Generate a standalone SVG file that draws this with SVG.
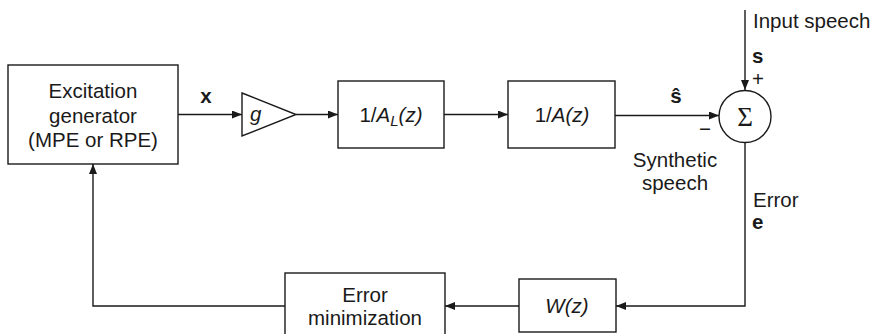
<svg xmlns="http://www.w3.org/2000/svg" width="874" height="334" viewBox="0 0 874 334">
<defs>
<marker id="ah" markerWidth="10" markerHeight="8" refX="10" refY="4" orient="auto" markerUnits="userSpaceOnUse">
<path d="M0,0 L10,4 L0,8 Z" fill="#1a1a1a"/>
</marker>
<style>
.box{fill:#fff;stroke:#1a1a1a;stroke-width:1.4}
.ln{fill:none;stroke:#1a1a1a;stroke-width:1.4}
.t{font-family:"Liberation Sans",Arial,sans-serif;font-size:20.5px;fill:#1a1a1a}
.c{text-anchor:middle}
.b{font-weight:bold}
.i{font-style:italic}
</style>
</defs>
<rect width="874" height="334" fill="#fff"/>
<g id="connectors">
<line class="ln" x1="178" y1="114.5" x2="242" y2="114.5" marker-end="url(#ah)"/>
<line class="ln" x1="296" y1="114.5" x2="338" y2="114.5" marker-end="url(#ah)"/>
<line class="ln" x1="444" y1="114.5" x2="508" y2="114.5" marker-end="url(#ah)"/>
<line class="ln" x1="615" y1="115.5" x2="719" y2="115.5" marker-end="url(#ah)"/>
<line class="ln" x1="745" y1="10" x2="745" y2="90" marker-end="url(#ah)"/>
<polyline class="ln" points="745,142 745,306 616,306" marker-end="url(#ah)"/>
<line class="ln" x1="519" y1="306" x2="445" y2="306" marker-end="url(#ah)"/>
<polyline class="ln" points="285,306 93,306 93,164" marker-end="url(#ah)"/>
<text class="t b c" x="206" y="103">x</text>
<text class="t b c" x="676" y="103">ŝ</text>
<text class="t" x="753" y="28">Input speech</text>
<text class="t b" x="752" y="63">s</text>
<text class="t" x="752" y="86" font-size="18">+</text>
<text class="t" x="699" y="136" font-size="18">−</text>
<text class="t c" x="675" y="167">Synthetic</text>
<text class="t c" x="675" y="190">speech</text>
<text class="t" x="753" y="207">Error</text>
<text class="t b" x="752" y="229">e</text>
</g>
<g id="excitation">
<rect class="box" x="8" y="65" width="170" height="99"/>
<text class="t c" x="93" y="98">Excitation</text>
<text class="t c" x="93" y="123">generator</text>
<text class="t c" x="93" y="147">(MPE or RPE)</text>
</g>
<g id="gain">
<polygon class="box" points="242,93 296,114.5 242,136"/>
<text class="t i" x="250" y="121">g</text>
</g>
<g id="ltp">
<rect class="box" x="338" y="81" width="106" height="67"/>
<text class="t c" x="391" y="122">1/<tspan class="i">A</tspan><tspan class="i" font-size="15" dy="4">L</tspan><tspan class="i" dy="-4">(z)</tspan></text>
</g>
<g id="stp">
<rect class="box" x="508" y="81" width="107" height="67"/>
<text class="t c" x="562" y="122">1/<tspan class="i">A(z)</tspan></text>
</g>
<g id="sum">
<circle class="box" cx="745" cy="116.5" r="26"/>
<text x="745" y="126" text-anchor="middle" font-family="Liberation Serif,serif" font-size="27" fill="#1a1a1a">Σ</text>
</g>
<g id="weight">
<rect class="box" x="519" y="279" width="97" height="53"/>
<text class="t c i" x="567" y="313">W(z)</text>
</g>
<g id="errmin">
<rect class="box" x="285" y="273" width="160" height="63"/>
<text class="t c" x="365" y="302">Error</text>
<text class="t c" x="365" y="325">minimization</text>
</g>
</svg>
